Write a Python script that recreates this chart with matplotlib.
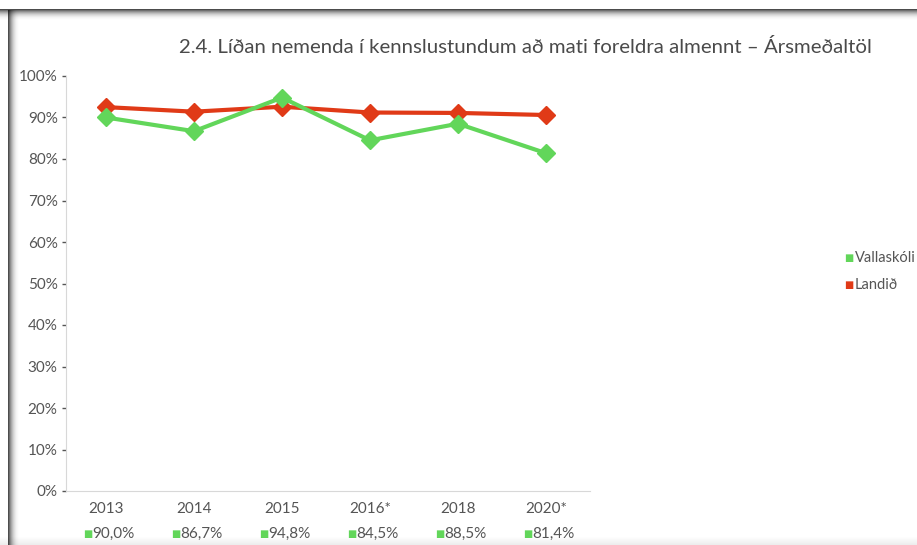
import matplotlib.pyplot as plt
from matplotlib.patches import Rectangle
import numpy as np

years = ["2013", "2014", "2015", "2016*", "2018", "2020*"]
vallaskoli = [90.0, 86.7, 94.8, 84.5, 88.5, 81.4]
landid = [92.5, 91.4, 92.6, 91.2, 91.1, 90.6]
value_labels = ["90,0%", "86,7%", "94,8%", "84,5%", "88,5%", "81,4%"]

GREEN = "#62d65a"
RED = "#e03a17"
TXT = "#555555"

plt.rcParams["font.family"] = ["Lato", "DejaVu Sans"]


def main():
    fig = plt.figure(figsize=(9.17, 5.45), dpi=100)

    # frame with shadow, like the screenshot
    for i in range(12):
        a = 0.7 * (1 - i / 12) ** 2.5
        fig.patches.append(Rectangle((0, 1 - (10 + i) / 545), 1, 1 / 545, transform=fig.transFigure,
                                     color="black", alpha=a, lw=0))
        fig.patches.append(Rectangle(((8 + i) / 917, 0), 1 / 917, 1 - 10 / 545, transform=fig.transFigure,
                                     color="black", alpha=a, lw=0))
    for i in range(8):
        fig.patches.append(Rectangle((0, i / 545), 1, 1 / 545, transform=fig.transFigure,
                                     color="black", alpha=0.07 * (1 - i / 8), lw=0))

    ax = fig.add_axes([66 / 917, 1 - 491 / 545, (590 - 66) / 917, (491 - 76) / 545])
    x = np.arange(len(years))
    ax.plot(x, landid, color=RED, lw=3, marker="D", ms=9, label="Landið", zorder=3)
    ax.plot(x, vallaskoli, color=GREEN, lw=3, marker="D", ms=9, label="Vallaskóli", zorder=4)

    ax.set_ylim(0, 100)
    ax.set_xlim(-0.455, 5.5)
    ax.set_yticks(np.arange(0, 101, 10))
    ax.set_yticklabels([f"{v}%" for v in range(0, 101, 10)])
    ax.set_xticks(x)
    ax.set_xticklabels(years)
    ax.tick_params(axis="y", colors=TXT, labelsize=11, length=3, width=1, pad=3)
    ax.tick_params(axis="x", colors=TXT, labelsize=11, length=0, pad=8)
    for s in ["top", "right"]:
        ax.spines[s].set_visible(False)
    for s in ["left", "bottom"]:
        ax.spines[s].set_color("#d8d8d8")

    # values row under the years
    for xi, lab in zip(x, value_labels):
        ax.annotate(lab, (xi, 0), xytext=(5, -31), textcoords="offset points",
                    ha="center", va="center", color=TXT, fontsize=11, annotation_clip=False)
        ax.annotate("■", (xi, 0), xytext=(-13, -31), textcoords="offset points",
                    ha="center", va="center", color=GREEN, fontsize=7, annotation_clip=False,
                    family="DejaVu Sans")

    fig.text(525 / 917, 1 - 47 / 545,
             "2.4. Líðan nemenda í kennslustundum að mati foreldra almennt – Ársmeðaltöl",
             ha="center", va="center", fontsize=14.7, color="#4a4a4a")

    # legend
    fig.text(849 / 917, 1 - 258 / 545, "■", color=GREEN, fontsize=7, va="center", ha="center",
             family="DejaVu Sans")
    fig.text(855 / 917, 1 - 258 / 545, "Vallaskóli", color=TXT, fontsize=10.5, va="center")
    fig.text(849 / 917, 1 - 285 / 545, "■", color=RED, fontsize=7, va="center", ha="center",
             family="DejaVu Sans")
    fig.text(855 / 917, 1 - 285 / 545, "Landið", color=TXT, fontsize=10.5, va="center")

    fig.savefig("out.png")


if __name__ == "__main__":
    main()
